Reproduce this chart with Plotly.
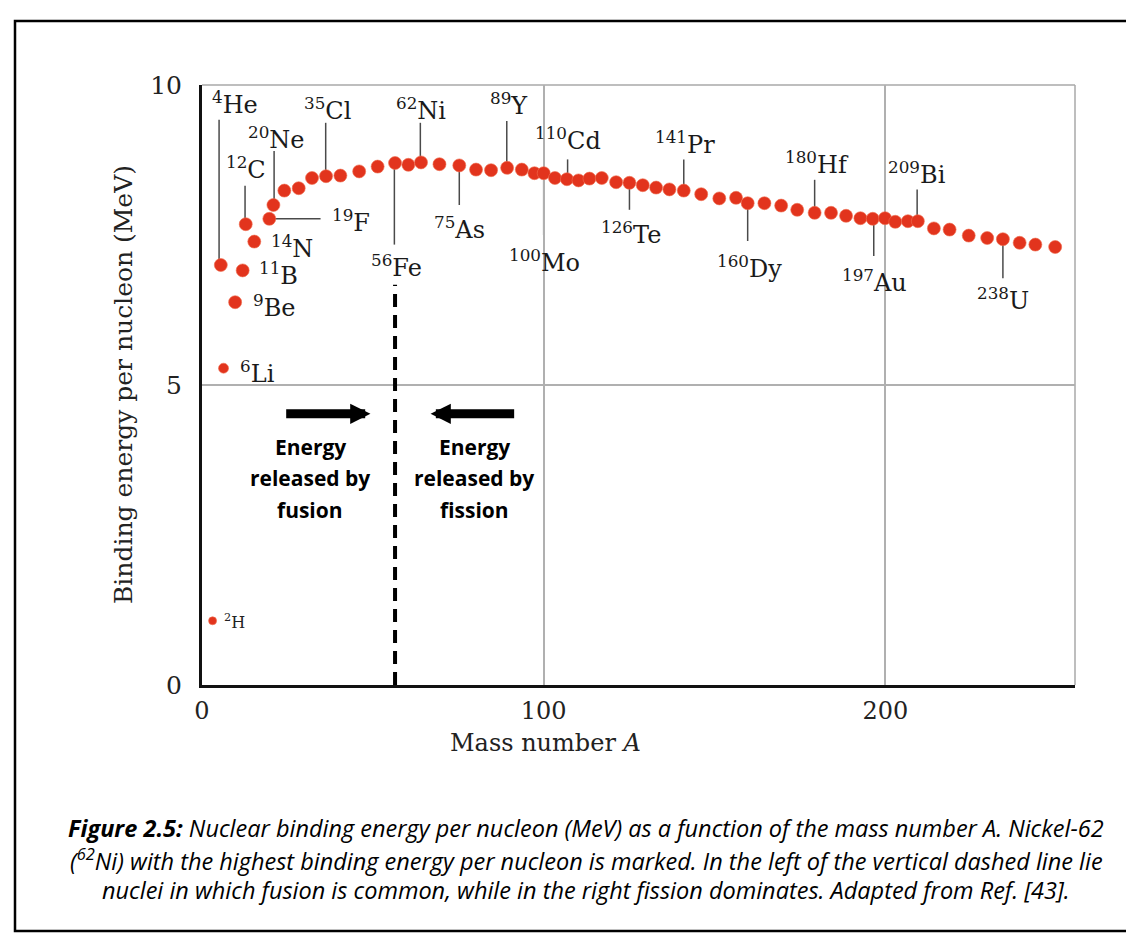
import plotly.graph_objects as go

# ---------------- data ----------------
# light nuclei drawn with smaller dots
light_A = [3.1, 6.3]
light_B = [1.07, 5.28]

mass_number = [5.5, 9.7, 11.9, 12.8, 15.3, 19.7, 20.9, 24.1, 28.3, 32.2,
               36.3, 40.5, 46.0, 51.4, 56.5, 60.4, 64.1, 69.5, 75.3, 80.2,
               84.6, 89.3, 93.6, 97.3, 100.0, 103.3, 106.8, 110.2, 113.4, 117.0,
               121.2, 125.1, 129.0, 132.9, 136.8, 141.0, 146.1, 151.4, 156.3, 159.7,
               164.6, 169.5, 174.2, 179.3, 184.1, 188.5, 192.7, 196.3, 199.9, 202.9,
               206.6, 209.5, 214.2, 218.8, 224.4, 229.8, 234.4, 239.3, 243.9, 249.7]
binding_energy = [7.00, 6.38, 6.91, 7.68, 7.39, 7.77, 8.00, 8.24, 8.28, 8.45,
                  8.48, 8.49, 8.56, 8.64, 8.70, 8.67, 8.71, 8.68, 8.66, 8.59,
                  8.58, 8.62, 8.59, 8.53, 8.53, 8.45, 8.43, 8.41, 8.44, 8.45,
                  8.38, 8.37, 8.33, 8.29, 8.26, 8.24, 8.18, 8.11, 8.12, 8.03,
                  8.03, 7.99, 7.92, 7.87, 7.87, 7.82, 7.78, 7.77, 7.78, 7.72,
                  7.73, 7.73, 7.61, 7.59, 7.49, 7.45, 7.43, 7.37, 7.34, 7.30]

x_ticks = [0, 100, 200]
y_ticks = [0, 5, 10]

# isotope labels: text, label position (A, B)
iso_text = ["<sup>4</sup>He", "<sup>12</sup>C", "<sup>20</sup>Ne", "<sup>35</sup>Cl", "<sup>62</sup>Ni",
            "<sup>19</sup>F", "<sup>14</sup>N", "<sup>11</sup>B", "<sup>9</sup>Be", "<sup>6</sup>Li",
            "<sup>56</sup>Fe", "<sup>75</sup>As", "<sup>89</sup>Y", "<sup>110</sup>Cd", "<sup>100</sup>Mo",
            "<sup>126</sup>Te", "<sup>141</sup>Pr", "<sup>160</sup>Dy", "<sup>180</sup>Hf", "<sup>209</sup>Bi",
            "<sup>197</sup>Au", "<sup>238</sup>U"]
iso_x = [9.6, 13.0, 21.9, 36.6, 64.1, 43.6, 26.4, 22.5, 21.1, 16.2,
         56.9, 75.5, 89.9, 107.0, 100.1, 125.6, 141.4, 160.2, 180.1, 209.2,
         196.8, 234.4]
iso_y = [9.70, 8.62, 9.11, 9.60, 9.60, 7.74, 7.30, 6.85, 6.32, 5.22,
         6.98, 7.61, 9.68, 9.10, 7.06, 7.53, 9.03, 6.96, 8.70, 8.54,
         6.73, 6.44]

# leader lines (A0, B0, A1, B1)
leaders = [(5.0, 9.42, 5.0, 7.07), (12.6, 8.32, 12.6, 7.73), (21.1, 8.90, 21.1, 8.08),
           (36.2, 9.37, 36.2, 8.57), (63.9, 9.37, 63.9, 8.75), (21.1, 7.77, 34.7, 7.77),
           (56.3, 8.70, 56.3, 7.34), (75.3, 8.62, 75.3, 8.00), (89.2, 9.40, 89.2, 8.65),
           (100.0, 8.62, 100.0, 7.50), (107.0, 8.76, 107.0, 8.50), (125.1, 8.34, 125.1, 7.92),
           (141.0, 8.76, 141.0, 8.26), (159.7, 8.00, 159.7, 7.40), (179.3, 8.42, 179.3, 7.90),
           (209.3, 8.26, 209.3, 7.76), (196.6, 7.67, 196.6, 7.15), (234.4, 7.40, 234.4, 6.78)]

fe_A = 56.5
fe_line_top = 6.67

caption_lines = [
    "<b>Figure 2.5:</b> Nuclear binding energy per nucleon (MeV) as a function of the mass number A. Nickel-62",
    "(<sup>62</sup>Ni) with the highest binding energy per nucleon is marked. In the left of the vertical dashed line lie",
    "nuclei in which fusion is common, while in the right fission dominates. Adapted from Ref. [43].",
]

# ---------------- figure ----------------
W, H = 1134, 941
L, R, T, B = 194, 67, 77, 264
PW, PH = W - L - R, H - T - B


def px2paper_x(px):
    return (px - L) / PW


def px2paper_y(py):
    return (H - B - py) / PH


SERIF = "DejaVu Serif"
SANS = "Open Sans"
DOT = "#e2341d"
HALO = "rgba(240,110,80,0.6)"

fig = go.Figure()

fig.add_trace(go.Scatter(x=mass_number, y=binding_energy, mode="markers",
                         marker=dict(size=13, color=DOT, opacity=1, line=dict(width=1, color=HALO)),
                         hoverinfo="x+y", showlegend=False))
fig.add_trace(go.Scatter(x=light_A, y=light_B, mode="markers",
                         marker=dict(size=[8, 10], color=DOT, opacity=1, line=dict(width=1, color=HALO)),
                         hoverinfo="x+y", showlegend=False))

shapes = []
for (a0, b0, a1, b1) in leaders:
    shapes.append(dict(type="line", xref="x", yref="y", x0=a0, y0=b0, x1=a1, y1=b1,
                       line=dict(color="#4a4a4a", width=1.5), layer="below"))
# fusion/fission boundary
shapes.append(dict(type="line", xref="x", yref="y", x0=fe_A, x1=fe_A, y0=0, y1=fe_line_top,
                   line=dict(color="black", width=4, dash="13px,8px")))
# top and right frame
shapes.append(dict(type="line", xref="paper", yref="paper", x0=0, x1=1, y0=1, y1=1,
                   line=dict(color="#a8a8a8", width=1.5), layer="below"))
shapes.append(dict(type="line", xref="paper", yref="paper", x0=1, x1=1, y0=0, y1=1,
                   line=dict(color="#a8a8a8", width=1.5), layer="below"))
# outer border of the figure
shapes.append(dict(type="rect", xref="paper", yref="paper",
                   x0=px2paper_x(7), x1=px2paper_x(1127), y0=px2paper_y(923), y1=px2paper_y(13),
                   line=dict(color="black", width=2.5)))

annotations = []
for t, ax_, ay_ in zip(iso_text, iso_x, iso_y):
    annotations.append(dict(x=ax_, y=ay_, xref="x", yref="y", text=t, showarrow=False,
                            font=dict(family=SERIF, size=24, color="#1a1a1a"),
                            xanchor="center", yanchor="middle"))
annotations.append(dict(x=9.4, y=1.06, xref="x", yref="y", text="<sup>2</sup>H", showarrow=False,
                        font=dict(family=SERIF, size=16, color="#222"), xanchor="center", yanchor="middle"))

# arrows
annotations.append(dict(x=49.3, y=4.52, ax=24.2, ay=4.52, xref="x", yref="y", axref="x", ayref="y",
                        text="", showarrow=True, arrowhead=2, arrowsize=0.45, arrowwidth=9,
                        arrowcolor="black"))
annotations.append(dict(x=66.9, y=4.52, ax=91.8, ay=4.52, xref="x", yref="y", axref="x", ayref="y",
                        text="", showarrow=True, arrowhead=2, arrowsize=0.45, arrowwidth=9,
                        arrowcolor="black"))
for cx, word in [(31.7, "fusion"), (79.7, "fission")]:
    for i, line in enumerate(["Energy", "released by", word]):
        annotations.append(dict(x=cx, y=3.97 - 0.525 * i, xref="x", yref="y", text="<b>" + line + "</b>",
                                showarrow=False, font=dict(family=SANS, size=21, color="black"),
                                xanchor="center", yanchor="middle"))

# axis titles
annotations.append(dict(x=px2paper_x(115), y=0.5, xref="paper", yref="paper",
                        text="Binding energy per nucleon (MeV)", textangle=-90, showarrow=False,
                        font=dict(family=SERIF, size=25, color="#222"), xanchor="center", yanchor="middle"))
annotations.append(dict(x=px2paper_x(537), y=px2paper_y(735), xref="paper", yref="paper",
                        text="Mass number <i>A</i>", showarrow=False,
                        font=dict(family=SERIF, size=24, color="#222"), xanchor="center", yanchor="middle"))

# caption
for i, line in enumerate(caption_lines):
    annotations.append(dict(x=px2paper_x(578), y=px2paper_y(820 + 31 * i), xref="paper", yref="paper",
                            text="<i>" + line + "</i>", showarrow=False,
                            font=dict(family=SANS, size=23.5, color="black"),
                            xanchor="center", yanchor="middle"))

fig.update_layout(
    width=W, height=H,
    margin=dict(l=L, r=R, t=T, b=B, autoexpand=False),
    paper_bgcolor="white", plot_bgcolor="white",
    shapes=shapes, annotations=annotations,
    xaxis=dict(range=[0, 255.5], tickvals=x_ticks, showgrid=True, gridcolor="#b0b0b0", gridwidth=1.5,
               zeroline=False, showline=True, linecolor="#111", linewidth=3, ticks="",
               tickfont=dict(family=SERIF, size=24, color="#222"), ticklabelstandoff=2,
               fixedrange=True),
    yaxis=dict(range=[0, 10], tickvals=y_ticks, showgrid=True, gridcolor="#b0b0b0", gridwidth=1.5,
               zeroline=False, showline=True, linecolor="#111", linewidth=3, ticks="",
               tickfont=dict(family=SERIF, size=25, color="#222"), ticklabelstandoff=12,
               fixedrange=True),
    showlegend=False,
)

fig.write_html("out.html")
